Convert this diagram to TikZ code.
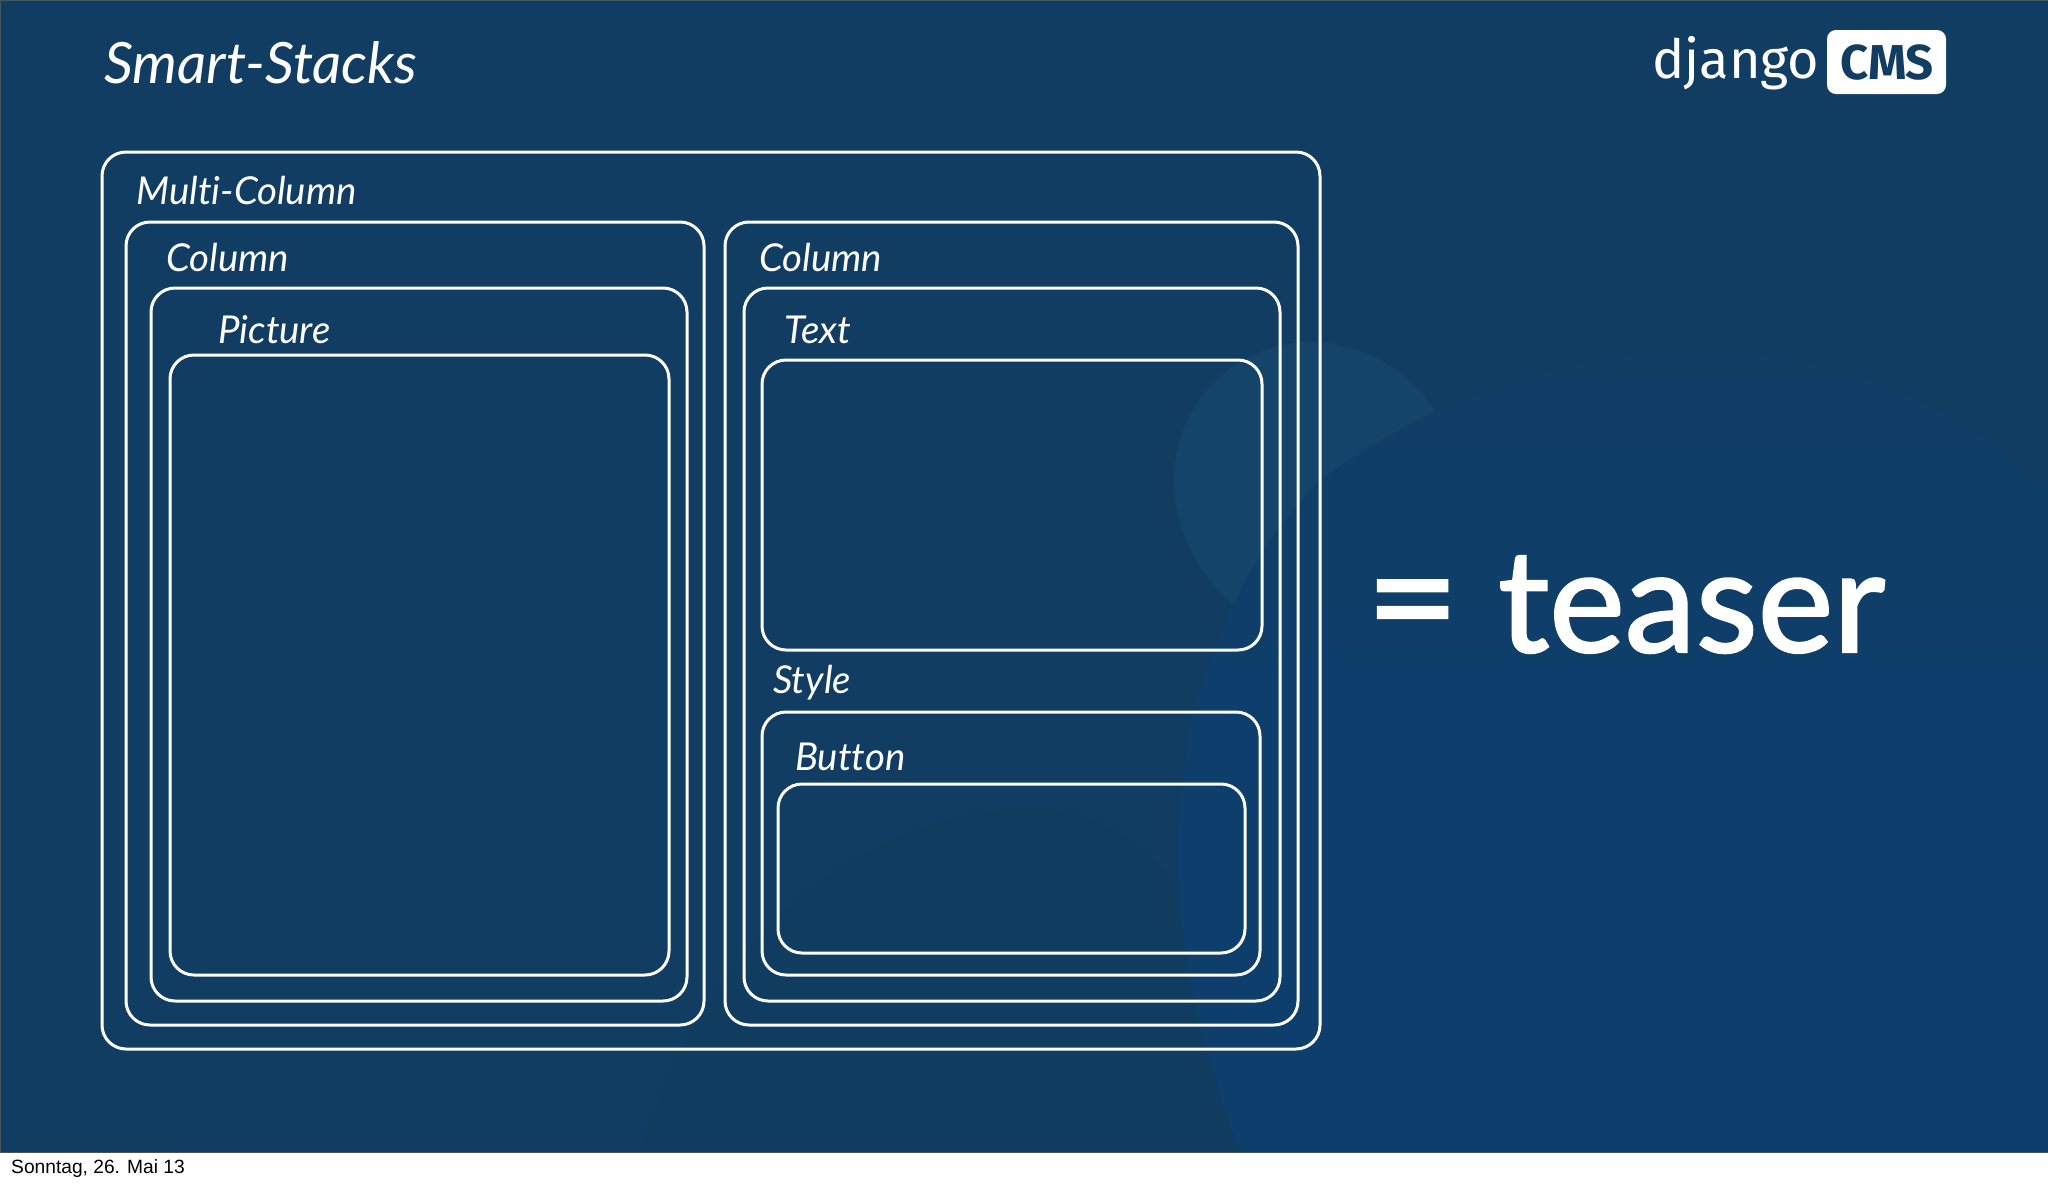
\documentclass[tikz,border=0pt]{standalone}
\usepackage{fontspec}
\setmainfont[Ligatures=NoCommon]{Lato}
\newfontfamily\bigfont[AutoFakeBold=1.6]{Lato}
\newfontfamily\logofont{Fira Sans}
\newfontfamily\datefont{Liberation Sans}
\definecolor{slidebg}{RGB}{17,61,99}
\definecolor{slideline}{RGB}{70,84,98}
\definecolor{blobblue}{RGB}{14,62,108}
\definecolor{blobtop}{RGB}{16,62,101}
\definecolor{blobdark}{RGB}{16,60,96}
\definecolor{blobpale}{RGB}{20,68,105}
\tikzset{
    panel/.style = {draw=white, line width=3pt, rounded corners=24pt},
    tag/.style = {anchor=base west, text=white, font=\fontsize{38.4}{38.4}\selectfont\itshape, inner sep=0pt}
}
\begin{document}
\begin{tikzpicture}[x=1pt, y=-1pt]
    \useasboundingbox (0,0) rectangle (2048,1184);
    \fill [white] (0,0) rectangle (2048,1184);
    \fill [slidebg] (0,0) rectangle (2048,1152);
    \begin{scope}
        \clip (0,0) rectangle (2048,1152);
        \fill [blobdark] (640,1152) .. controls (700,960) and (830,830) .. (1000,810) .. controls (1100,800) and (1200,830) .. (1300,1152) -- cycle;
        \fill [blobpale] (1174,480) .. controls (1174,400) and (1240,342) .. (1310,342) .. controls (1370,342) and (1420,380) .. (1440,420) -- (1310,600) -- (1240,610) .. controls (1200,580) and (1174,530) .. cycle;
        \shade [top color=blobtop, bottom color=blobblue, middle color=blobblue] (1320,480) .. controls (1460,380) and (1600,345) .. (1720,350) .. controls (1850,355) and (1970,410) .. (2048,490) -- (2048,1152) -- (1240,1152) .. controls (1190,1020) and (1170,900) .. (1180,800) .. controls (1190,680) and (1240,560) .. cycle;
    \end{scope}
    \draw [slideline, line width=1pt] (0,0) rectangle (2048,1152);
    % outer frame
    \draw [panel] (102,152) rectangle (1320,1049);
    % left column
    \draw [panel] (126,222) rectangle (704,1025);
    \draw [panel] (151,288) rectangle (687,1001);
    \draw [panel] (170,355) rectangle (669,975);
    % right column
    \draw [panel] (725,222) rectangle (1298,1025);
    \draw [panel] (744,288) rectangle (1280,1001);
    \draw [panel] (762,360) rectangle (1262,650);
    \draw [panel] (762,712) rectangle (1260,975);
    \draw [panel] (778,784) rectangle (1245,953);

    \node (title) [anchor=base west, text=white, inner sep=0pt, font=\fontsize{57}{57}\selectfont\itshape] at (104,83) {Smart-Stacks};
    \node (multi) [tag] at (136,204) {Multi-Column};
    \node (colleft) [tag] at (166,271) {Column};
    \node (picture) [tag] at (218,343) {Picture};
    \node (colright) [tag] at (759,271) {Column};
    \node (text) [tag] at (784,343) {Text};
    \node (style) [tag] at (773,693) {Style};
    \node (button) [tag] at (795,770) {Button};

    \node (equals) [anchor=base west, text=white, inner sep=0pt, font=\fontsize{160}{160}\selectfont\bigfont\bfseries] at (1366,653) {=};
    \node (teaser) [anchor=base west, text=white, inner sep=0pt, font=\fontsize{143}{143}\selectfont\bigfont\bfseries] at (1498,652) {teaser};

    \node (django) [anchor=base west, text=white, inner sep=0pt, font=\fontsize{54}{54}\selectfont\logofont] at (1652,78) {django};
    \fill [white, rounded corners=9pt] (1827,30) rectangle (1946,94);
    \node (cms) [anchor=base, text=slidebg, inner sep=0pt, font=\fontsize{49}{49}\selectfont\logofont\bfseries] at (1887,79) {CMS};

    \node (date) [anchor=base west, text=black, inner sep=0pt, font=\fontsize{19.2}{19.2}\selectfont\datefont] at (11,1173) {Sonntag, 26. Mai 13};
\end{tikzpicture}
\end{document}
